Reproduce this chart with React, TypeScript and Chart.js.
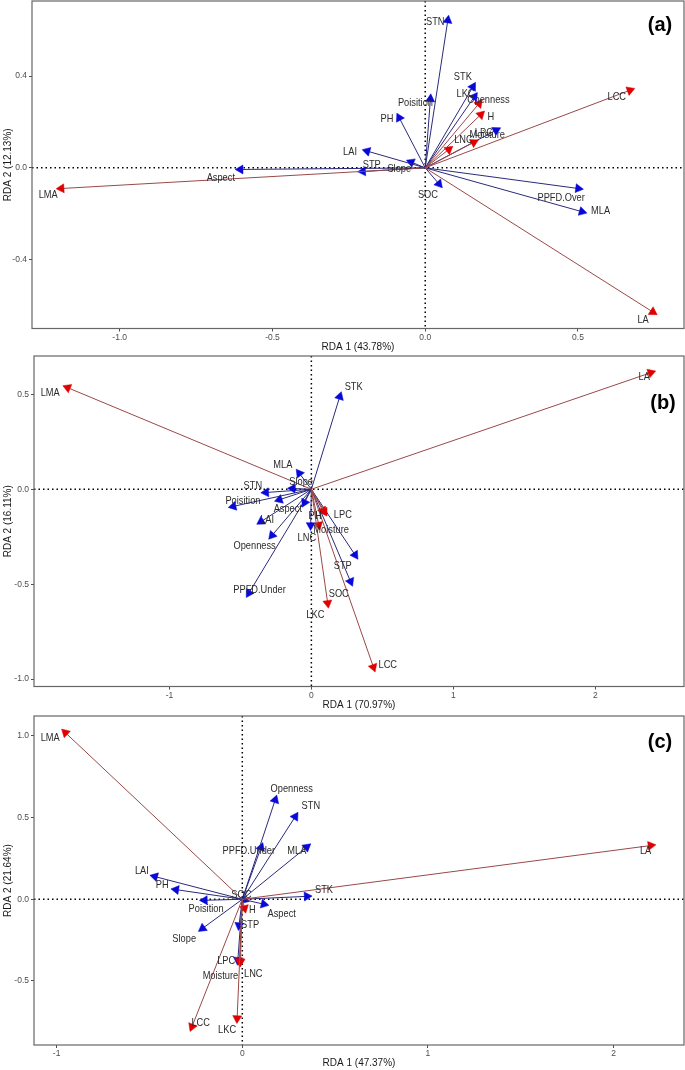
import React, { useEffect, useRef } from "react";
import { Chart, registerables } from "chart.js";
Chart.register(...registerables);

// ---------- Panel (a) ----------
const A_NAMES = ["LMA", "LCC", "LA", "LKC", "H", "LPC", "LNC", "STN", "STK", "Openness", "Poisition", "PH", "LAI", "Slope", "STP", "Aspect", "SOC", "PPFD.Over", "MLA", "Moisture"];
const A_TYPES = ["T", "T", "T", "T", "T", "T", "T", "E", "E", "E", "E", "E", "E", "E", "E", "E", "E", "E", "E", "E"];
const A_X = [-1.191, 0.670, 0.745, 0.176, 0.182, 0.159, 0.077, 0.074, 0.156, 0.161, 0.017, -0.085, -0.190, -0.046, -0.204, -0.605, 0.045, 0.501, 0.513, 0.232];
const A_Y = [-0.090, 0.338, -0.628, 0.280, 0.232, 0.111, 0.080, 0.643, 0.353, 0.310, 0.300, 0.218, 0.073, 0.025, -0.016, -0.007, -0.070, -0.090, -0.191, 0.164];
const A_LABEL_X = [-1.234, 0.627, 0.713, 0.132, 0.215, 0.192, 0.125, 0.033, 0.123, 0.207, -0.032, -0.125, -0.246, -0.085, -0.175, -0.669, 0.009, 0.445, 0.574, 0.203];
const A_LABEL_Y = [-0.120, 0.309, -0.662, 0.322, 0.222, 0.152, 0.120, 0.633, 0.394, 0.293, 0.283, 0.213, 0.068, -0.004, 0.010, -0.046, -0.120, -0.130, -0.188, 0.142];
const A_X_RANGE = [-1.287, 0.847];
const A_Y_RANGE = [-0.70, 0.727];
const A_X_TICKS = [-1, -0.5, 0, 0.5];
const A_X_TICK_LABELS = ["-1.0", "-0.5", "0.0", "0.5"];
const A_Y_TICKS = [-0.4, 0, 0.4];
const A_Y_TICK_LABELS = ["-0.4", "0.0", "0.4"];

// ---------- Panel (b) ----------
const B_NAMES = ["LMA", "LA", "LCC", "LKC", "LPC", "H", "LNC", "STK", "MLA", "Slope", "STN", "Poisition", "Aspect", "PH", "LAI", "Openness", "PPFD.Under", "Moisture", "STP", "SOC"];
const B_TYPES = ["T", "T", "T", "T", "T", "T", "T", "E", "E", "E", "E", "E", "E", "E", "E", "E", "E", "E", "E", "E"];
const B_X = [-1.717, 2.391, 0.437, 0.115, 0.092, 0.080, 0.052, 0.200, -0.085, -0.132, -0.320, -0.550, -0.225, -0.048, -0.354, -0.277, -0.440, -0.005, 0.276, 0.308];
const B_Y = [0.535, 0.614, -0.937, -0.600, -0.118, -0.112, -0.188, 0.488, 0.084, 0.004, -0.017, -0.090, -0.055, -0.070, -0.170, -0.243, -0.547, -0.190, -0.486, -0.346];
const B_LABEL_X = [-1.840, 2.345, 0.538, 0.028, 0.222, 0.050, -0.032, 0.298, -0.201, -0.072, -0.412, -0.482, -0.166, 0.025, -0.312, -0.400, -0.365, 0.139, 0.221, 0.193];
const B_LABEL_Y = [0.505, 0.589, -0.925, -0.661, -0.135, -0.141, -0.255, 0.537, 0.128, 0.040, 0.014, -0.062, -0.104, -0.141, -0.165, -0.302, -0.534, -0.218, -0.407, -0.551];
const B_X_RANGE = [-1.954, 2.625];
const B_Y_RANGE = [-1.039, 0.702];
const B_X_TICKS = [-1, 0, 1, 2];
const B_X_TICK_LABELS = ["-1", "0", "1", "2"];
const B_Y_TICKS = [-1, -0.5, 0, 0.5];
const B_Y_TICK_LABELS = ["-1.0", "-0.5", "0.0", "0.5"];

// ---------- Panel (c) ----------
const C_NAMES = ["LMA", "LA", "LCC", "LKC", "H", "LNC", "LPC", "Openness", "STN", "PPFD.Under", "MLA", "LAI", "PH", "STK", "Poisition", "Aspect", "Slope", "STP", "SOC", "Moisture"];
const C_TYPES = ["T", "T", "T", "T", "T", "T", "T", "E", "E", "E", "E", "E", "E", "E", "E", "E", "E", "E", "E", "E"];
const C_X = [-0.953, 2.200, -0.271, -0.028, 0.012, -0.010, -0.015, 0.177, 0.285, 0.101, 0.347, -0.471, -0.357, 0.348, -0.203, 0.116, -0.214, -0.018, 0.012, -0.024];
const C_Y = [1.020, 0.329, -0.780, -0.729, -0.055, -0.382, -0.378, 0.608, 0.506, 0.317, 0.320, 0.139, 0.059, 0.018, -0.006, -0.030, -0.178, -0.160, -0.004, -0.372];
const C_LABEL_X = [-1.035, 2.172, -0.224, -0.082, 0.054, 0.059, -0.087, 0.266, 0.369, 0.035, 0.294, -0.541, -0.431, 0.440, -0.195, 0.212, -0.313, 0.042, -0.005, -0.118];
const C_LABEL_Y = [0.986, 0.296, -0.759, -0.804, -0.065, -0.459, -0.376, 0.673, 0.567, 0.292, 0.292, 0.173, 0.088, 0.053, -0.061, -0.090, -0.245, -0.157, 0.027, -0.469];
const C_X_RANGE = [-1.122, 2.379];
const C_Y_RANGE = [-0.892, 1.122];
const C_X_TICKS = [-1, 0, 1, 2];
const C_X_TICK_LABELS = ["-1", "0", "1", "2"];
const C_Y_TICKS = [-0.5, 0, 0.5, 1];
const C_Y_TICK_LABELS = ["-0.5", "0.0", "0.5", "1.0"];

const PANELS = [
  { names: A_NAMES, types: A_TYPES, x: A_X, y: A_Y, lx: A_LABEL_X, ly: A_LABEL_Y, xRange: A_X_RANGE, yRange: A_Y_RANGE, xTicks: A_X_TICKS, xTickLabels: A_X_TICK_LABELS, yTicks: A_Y_TICKS, yTickLabels: A_Y_TICK_LABELS, xTitle: "RDA 1 (43.78%)", yTitle: "RDA 2 (12.13%)", tag: "(a)" },
  { names: B_NAMES, types: B_TYPES, x: B_X, y: B_Y, lx: B_LABEL_X, ly: B_LABEL_Y, xRange: B_X_RANGE, yRange: B_Y_RANGE, xTicks: B_X_TICKS, xTickLabels: B_X_TICK_LABELS, yTicks: B_Y_TICKS, yTickLabels: B_Y_TICK_LABELS, xTitle: "RDA 1 (70.97%)", yTitle: "RDA 2 (16.11%)", tag: "(b)" },
  { names: C_NAMES, types: C_TYPES, x: C_X, y: C_Y, lx: C_LABEL_X, ly: C_LABEL_Y, xRange: C_X_RANGE, yRange: C_Y_RANGE, xTicks: C_X_TICKS, xTickLabels: C_X_TICK_LABELS, yTicks: C_Y_TICKS, yTickLabels: C_Y_TICK_LABELS, xTitle: "RDA 1 (47.37%)", yTitle: "RDA 2 (21.64%)", tag: "(c)" },
];

// layout geometry (pixels)
const GEOMETRY = [
  { top: 0, height: 352, left: 32, chartTop: 1, chartBottom: 328.5, right: 684, tagDx: 24, tagDy: 24 },
  { top: 352, height: 358, left: 34, chartTop: 4, chartBottom: 334.5, right: 684, tagDx: 21, tagDy: 47 },
  { top: 710, height: 360, left: 34, chartTop: 6, chartBottom: 335, right: 684, tagDx: 24, tagDy: 26 },
];

const W = 685;
const FONT = '"Liberation Sans", Arial, Helvetica, sans-serif';
const RED_LINE = "#9A4848";
const BLUE_LINE = "#2A2A7A";
const RED_HEAD = "#E00000";
const BLUE_HEAD = "#0808D8";

function Panel({ d, g }: { d: any; g: any }) {
  const ref = useRef<HTMLCanvasElement>(null);
  useEffect(() => {
    const canvas = ref.current;
    if (!canvas) return;
    const datasets = d.names.map((n: string, i: number) => {
      const trait = d.types[i] === "T";
      return {
        label: n,
        data: [
          { x: 0, y: 0 },
          { x: d.x[i], y: d.y[i] },
        ],
        showLine: true,
        borderColor: trait ? RED_LINE : BLUE_LINE,
        borderWidth: 1,
        pointRadius: [0, 5.2],
        pointHoverRadius: [0, 5.2],
        pointStyle: "triangle",
        pointBackgroundColor: trait ? RED_HEAD : BLUE_HEAD,
        pointBorderColor: trait ? RED_HEAD : BLUE_HEAD,
        pointBorderWidth: 0.5,
        pointRotation: (ctx: any) => {
          const xs = ctx.chart.scales.x;
          const ys = ctx.chart.scales.y;
          const dx = xs.getPixelForValue(d.x[i]) - xs.getPixelForValue(0);
          const dy = ys.getPixelForValue(d.y[i]) - ys.getPixelForValue(0);
          return (Math.atan2(dx, -dy) * 180) / Math.PI;
        },
      };
    });

    const overlay = {
      id: "overlay" + d.tag,
      beforeDatasetsDraw(chart: any) {
        const { ctx, chartArea: a } = chart;
        const xs = chart.scales.x;
        const ys = chart.scales.y;
        ctx.save();
        ctx.beginPath();
        ctx.rect(a.left, a.top, a.right - a.left, a.bottom - a.top);
        ctx.clip();
        ctx.strokeStyle = "#000";
        ctx.lineWidth = 1.5;
        ctx.setLineDash([1.5, 3]);
        const x0 = xs.getPixelForValue(0);
        const y0 = ys.getPixelForValue(0);
        ctx.beginPath();
        ctx.moveTo(x0, a.top);
        ctx.lineTo(x0, a.bottom);
        ctx.moveTo(a.left, y0);
        ctx.lineTo(a.right, y0);
        ctx.stroke();
        ctx.restore();
      },
      afterDatasetsDraw(chart: any) {
        const { ctx, chartArea: a } = chart;
        const xs = chart.scales.x;
        const ys = chart.scales.y;
        ctx.save();
        // arrow labels
        ctx.fillStyle = "#2b2b2b";
        ctx.font = `10.3px ${FONT}`;
        ctx.textAlign = "center";
        ctx.textBaseline = "middle";
        d.names.forEach((n: string, i: number) => {
          ctx.save();
          ctx.translate(xs.getPixelForValue(d.lx[i]), ys.getPixelForValue(d.ly[i]));
          ctx.scale(0.9, 1);
          ctx.fillText(n, 0, 0);
          ctx.restore();
        });
        // panel border
        ctx.strokeStyle = "#666";
        ctx.lineWidth = 1.2;
        ctx.strokeRect(a.left, a.top, a.right - a.left, a.bottom - a.top);
        // tag
        ctx.fillStyle = "#000";
        ctx.font = `bold 20px ${FONT}`;
        ctx.fillText(d.tag, a.right - g.tagDx, a.top + g.tagDy);
        // axis titles
        ctx.fillStyle = "#1a1a1a";
        ctx.font = `10px ${FONT}`;
        ctx.fillText(d.xTitle, (a.left + a.right) / 2, a.bottom + 18.5);
        ctx.translate(8, (a.top + a.bottom) / 2);
        ctx.rotate(-Math.PI / 2);
        ctx.fillText(d.yTitle, 0, 0);
        ctx.restore();
      },
    };

    const chart = new Chart(canvas, {
      type: "scatter",
      data: { datasets },
      options: {
        responsive: false,
        animation: false,
        devicePixelRatio: 1,
        events: [],
        layout: { autoPadding: false, padding: { top: g.chartTop, left: 0, right: W - g.right, bottom: 0 } },
        plugins: { legend: { display: false }, tooltip: { enabled: false } },
        scales: {
          x: {
            type: "linear",
            min: d.xRange[0],
            max: d.xRange[1],
            afterBuildTicks: (s: any) => {
              s.ticks = d.xTicks.map((v: number) => ({ value: v }));
            },
            afterFit: (s: any) => {
              s.height = g.height - g.chartBottom;
              s.paddingLeft = 0;
              s.paddingRight = 0;
              s.paddingTop = 0;
              s.paddingBottom = 0;
            },
            ticks: {
              autoSkip: false,
              maxRotation: 0,
              padding: 1,
              color: "#4D4D4D",
              font: { size: 8.5, family: FONT },
              callback: (_v: any, idx: number) => d.xTickLabels[idx],
            },
            grid: { display: true, drawOnChartArea: false, drawTicks: true, tickLength: 3, color: "#4D4D4D" },
            border: { display: false },
          },
          y: {
            type: "linear",
            min: d.yRange[0],
            max: d.yRange[1],
            afterBuildTicks: (s: any) => {
              s.ticks = d.yTicks.map((v: number) => ({ value: v }));
            },
            afterFit: (s: any) => {
              s.width = g.left;
              s.paddingLeft = 0;
              s.paddingRight = 0;
              s.paddingTop = 0;
              s.paddingBottom = 0;
            },
            ticks: {
              autoSkip: false,
              padding: 2,
              color: "#4D4D4D",
              font: { size: 8.5, family: FONT },
              callback: (_v: any, idx: number) => d.yTickLabels[idx],
            },
            grid: { display: true, drawOnChartArea: false, drawTicks: true, tickLength: 3, color: "#4D4D4D" },
            border: { display: false },
          },
        },
      } as any,
      plugins: [overlay],
    });
    return () => chart.destroy();
  }, []);
  return (
    <canvas
      ref={ref}
      width={W}
      height={g.height}
      style={{ position: "absolute", left: 0, top: g.top, width: W, height: g.height }}
    />
  );
}

export default function App() {
  return (
    <div style={{ position: "absolute", left: 0, top: 0, width: W, height: 1070, background: "#fff" }}>
      {PANELS.map((p, i) => (
        <Panel key={i} d={p} g={GEOMETRY[i]} />
      ))}
    </div>
  );
}
